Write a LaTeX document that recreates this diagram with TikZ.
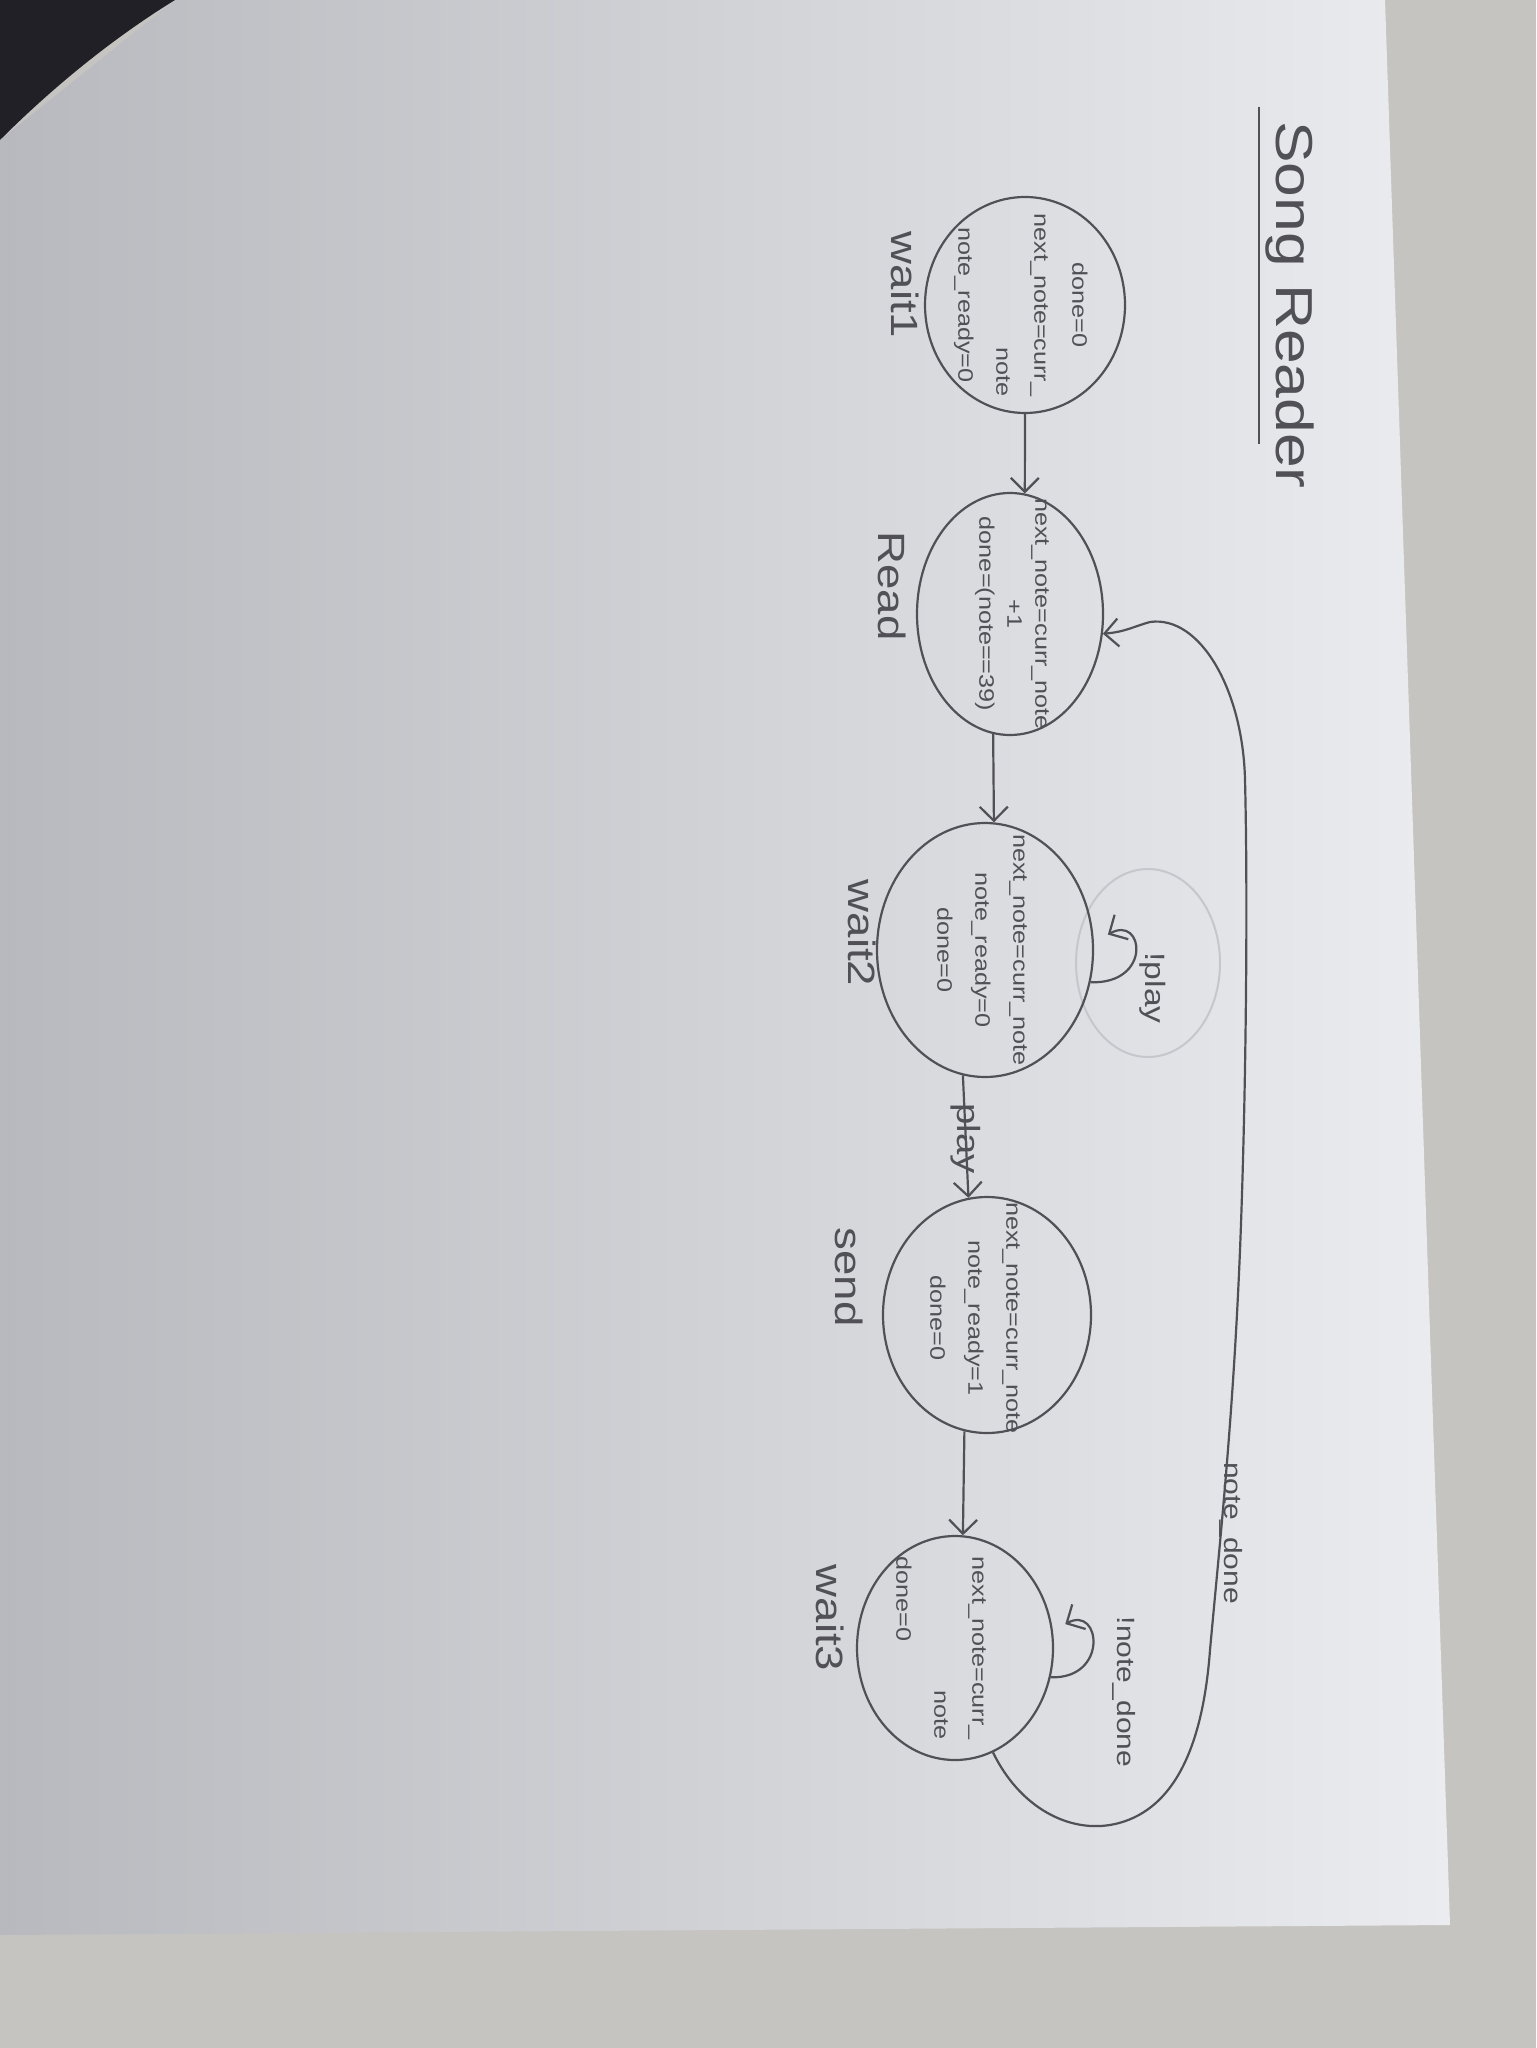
\documentclass[tikz,border=0pt]{standalone}
\usepackage{fontspec}
\setmainfont{Liberation Sans}
\newfontfamily\hand[FakeStretch=1.2]{Liberation Sans}
\usetikzlibrary{arrows.meta,shapes.geometric,calc}
\definecolor{pencil}{RGB}{80,80,86}
\definecolor{faint}{RGB}{198,199,204}
\definecolor{paperlit}{RGB}{235,236,239}
\definecolor{papermid}{RGB}{222,223,227}
\definecolor{papershade}{RGB}{184,185,190}
\definecolor{tablec}{RGB}{198,196,193}
\definecolor{corner}{RGB}{32,32,38}
\tikzset{
  stateC/.style={ellipse, draw=pencil, line width=1.1pt, inner sep=0pt},
  intext/.style={rotate=-90, text=pencil, font=\hand\fontsize{10.5}{19}\selectfont, inner sep=0pt},
  lbl/.style={rotate=-90, text=pencil, font=\hand\fontsize{19}{22}\selectfont, inner sep=0pt},
  cond/.style={rotate=-90, text=pencil, font=\hand\fontsize{13}{15}\selectfont, inner sep=0pt},
  wire/.style={draw=pencil, line width=1.1pt, -{Straight Barb[length=7pt,width=14pt]}},
}
\begin{document}
\begin{tikzpicture}[x=0.5pt,y=-0.5pt]
\useasboundingbox (0,0) rectangle (1536,2048);
% table and paper
\fill[tablec] (0,0) rectangle (1536,2048);
\shade[left color=papershade, middle color=papermid, right color=paperlit]
  (175,0) -- (1385,0) -- (1450,1925) -- (0,1935) -- (0,140) -- cycle;
\fill[corner] (0,0) -- (175,0) .. controls (110,40) and (50,90) .. (0,140) -- cycle;

% title
\node[rotate=-90, text=pencil, font=\hand\fontsize{26}{30}\selectfont, inner sep=0pt] (title) at (1290,305) {Song Reader};
\draw[pencil, line width=1.1pt] ($(title.south west)+(-6,-14)$) -- ($(title.south east)+(-6,-45)$);

% faint erased circle
\draw[faint, line width=1pt] (1148,963) ellipse (72 and 94);

% states
\node[stateC, minimum width=100pt, minimum height=108pt] (wait1) at (1025,305) {};
\node[stateC, minimum width=93pt, minimum height=121pt] (read) at (1010,614) {};
\node[stateC, minimum width=108pt, minimum height=127pt] (wait2) at (985,950) {};
\node[stateC, minimum width=104pt, minimum height=118pt] (send) at (987,1315) {};
\node[stateC, minimum width=98pt, minimum height=112pt] (wait3) at (955,1648) {};

% state contents
\node[intext] (wait1txt) at (1023,305) {\begin{tabular}{@{}c@{}}done=0\\next\_note=curr\_\\\hfill note\\note\_ready=0\end{tabular}};
\node[intext, align=center, font=\hand\fontsize{10.5}{14}\selectfont] (readtxt) at (1012,614) {next\_note=curr\_note\\+1\\done=(note==39)};
\node[intext, align=center] (wait2txt) at (982,950) {next\_note=curr\_note\\note\_ready=0\\done=0};
\node[intext, align=center] (sendtxt) at (975,1318) {next\_note=curr\_note\\note\_ready=1\\done=0};
\node[intext] (wait3txt) at (942,1648) {\begin{tabular}{@{}l@{}}next\_note=curr\_\\\hfill note\\done=0\end{tabular}};

% state labels
\node[lbl] (wait1lbl) at (905,285) {wait1};
\node[lbl] (readlbl) at (892,586) {Read};
\node[lbl] (wait2lbl) at (862,933) {wait2};
\node[lbl] (sendlbl) at (849,1277) {send};
\node[lbl] (wait3lbl) at (830,1618) {wait3};

% transitions
\draw[wire] (wait1.south) -- (read.83);
\draw[wire] (read.-98) -- (wait2.86);
\draw[wire] (wait2.-100) -- node[cond, font=\hand\fontsize{16}{18}\selectfont, pos=0.45, xshift=4pt] (playlbl) {play} (send.99);
\draw[wire] (send.-101) -- (wait3.86);

% self loops
\draw[wire, shorten >=8pt] (wait2.-17) .. controls +(62,2) and +(50,-28) .. (wait2.4);
\node[cond, font=\hand\fontsize{14}{16}\selectfont] (notplay) at (1153,988) {!play};
\draw[wire, shorten >=7pt] (wait3.-17) .. controls +(58,2) and +(48,-26) .. (wait3.10);
\node[cond, font=\hand\fontsize{12.5}{14}\selectfont] (notdone) at (1124,1692) {!note\_done};

% note_done back to Read
\draw[wire] (wait3.-70) .. controls (1020,1808) and (1070,1834) .. (1115,1824)
  .. controls (1168,1812) and (1202,1758) .. (1210,1650)
  .. controls (1220,1540) and (1233,1420) .. (1240,1250)
  .. controls (1246,1100) and (1248,900) .. (1245,780)
  .. controls (1243,690) and (1200,615) .. (1150,622)
  .. controls (1135,626) and (1125,632) .. (read.-12);
\node[cond, anchor=base, font=\hand\fontsize{12.5}{14}\selectfont] (donelbl) at (1224,1533) {note\_done};
\end{tikzpicture}
\end{document}
